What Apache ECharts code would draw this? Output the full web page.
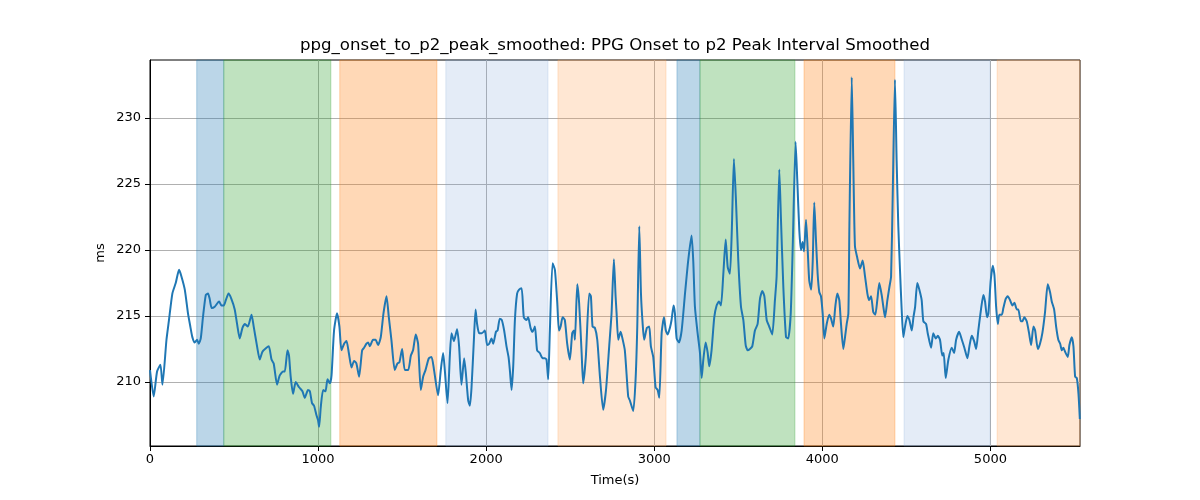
<!DOCTYPE html>
<html><head><meta charset="utf-8">
<script src="https://cdn.jsdelivr.net/npm/echarts@6/dist/echarts.min.js"></script>
<style>html,body{margin:0;padding:0;background:#fff}#c{width:1200px;height:500px}</style>
</head><body><div id="c"></div>
<script>
const times = [0,22,42,62,74,98,113,133,153,173,187,207,226,240,252,266,280,290,302,315,332,345,355,367,385,411,425,439,451,467,484,504,518,534,550,565,582,604,617,637,653,669,693,707,723,736,756,772,792,802,818,827,837,851,867,887,907,921,940,951,964,976,990,1000,1006,1016,1030,1044,1056,1070,1080,1095,1113,1127,1139,1155,1169,1183,1199,1214,1228,1244,1262,1274,1288,1298,1308,1327,1342,1357,1373,1389,1407,1421,1437,1456,1472,1484,1500,1516,1536,1552,1565,1581,1595,1611,1625,1639,1659,1675,1690,1714,1730,1744,1754,1770,1784,1794,1808,1827,1839,1853,1869,1879,1893,1903,1913,1927,1937,1946,1958,1974,1992,2006,2018,2032,2042,2058,2068,2081,2093,2107,2121,2133,2141,2151,2161,2171,2184,2196,2211,2224,2240,2250,2264,2276,2290,2303,2319,2336,2349,2359,2369,2379,2395,2409,2423,2433,2443,2455,2468,2482,2498,2512,2522,2528,2542,2553,2568,2577,2593,2613,2623,2633,2647,2661,2677,2696,2713,2732,2746,2760,2770,2776,2786,2800,2809,2825,2845,2855,2875,2889,2899,2911,2921,2931,2940,2956,2970,2980,2994,3008,3020,3030,3044,3058,3069,3080,3093,3103,3115,3123,3133,3147,3163,3183,3202,3222,3232,3242,3258,3272,3282,3292,3306,3318,3327,3341,3357,3371,3385,3397,3411,3425,3437,3450,3461,3474,3486,3500,3516,3530,3544,3556,3569,3583,3599,3615,3629,3643,3655,3669,3684,3702,3718,3728,3744,3754,3768,3784,3797,3812,3824,3841,3851,3863,3873,3883,3891,3903,3913,3922,3934,3943,3952,3962,3972,3982,3992,4002,4012,4026,4041,4052,4065,4077,4089,4101,4111,4125,4135,4145,4155,4161,4175,4184,4194,4208,4224,4240,4254,4268,4278,4290,4303,4315,4327,4339,4353,4363,4373,4387,4399,4409,4419,4432,4442,4452,4462,4472,4482,4492,4506,4518,4532,4542,4552,4565,4577,4591,4601,4617,4627,4647,4660,4675,4687,4700,4714,4722,4734,4750,4770,4784,4796,4814,4830,4845,4863,4875,4889,4903,4915,4928,4944,4958,4968,4980,4988,5002,5014,5024,5034,5044,5053,5068,5077,5091,5103,5117,5131,5143,5157,5166,5181,5190,5202,5216,5230,5242,5256,5266,5282,5295,5309,5325,5341,5355,5365,5379,5391,5404,5415,5425,5434,5444,5460,5470,5484,5494,5504,5514,5524,5532];
const values = [210.9,208.9,210.8,211.3,209.8,213.2,214.7,216.7,217.5,218.5,218.0,217.0,215.2,214.2,213.4,213.0,213.2,212.9,213.3,214.9,216.6,216.7,216.3,215.6,215.7,216.1,215.8,215.8,216.2,216.7,216.3,215.5,214.4,213.3,214.1,214.4,214.2,215.1,214.2,212.7,211.7,212.3,212.6,212.7,211.7,211.4,209.8,210.5,210.8,210.8,212.4,212.0,210.4,209.1,210.0,209.6,209.3,208.8,209.4,209.3,208.4,208.2,207.5,207.1,206.6,208.1,209.4,209.3,210.2,209.9,210.5,213.9,215.2,214.2,212.4,212.9,213.1,212.2,211.1,211.6,211.4,210.4,212.4,212.6,212.9,213.0,212.7,213.2,213.2,212.8,213.4,215.2,216.5,214.9,213.1,210.9,211.4,211.5,212.5,210.9,210.9,212.0,212.4,213.6,212.9,209.4,210.4,210.9,211.8,211.9,210.9,209.0,210.9,212.2,210.9,208.4,212.0,213.7,213.1,214.0,212.7,209.8,211.8,210.7,208.6,208.2,209.6,213.2,215.5,214.4,213.7,213.7,213.9,212.8,212.9,213.3,212.9,213.8,213.9,214.8,214.7,213.9,212.7,211.9,210.9,209.4,211.2,214.7,216.7,217.0,217.1,214.9,214.7,214.9,214.1,213.8,214.2,212.4,212.2,211.8,211.8,211.7,210.2,213.9,219.0,218.5,216.0,213.9,214.2,214.9,214.7,212.9,211.7,213.7,213.9,213.2,217.4,216.0,212.2,209.9,211.9,216.7,216.5,214.2,214.1,213.2,210.4,207.9,209.4,212.7,215.2,219.3,216.5,215.2,213.2,213.8,213.4,212.4,208.9,208.6,207.8,210.2,214.2,221.8,216.7,214.4,213.2,214.1,214.2,212.7,211.9,209.6,209.4,208.8,213.7,214.9,213.9,213.6,214.1,214.7,215.8,215.2,213.3,213.0,213.9,216.7,219.2,221.1,219.2,215.7,213.7,212.2,210.3,211.7,213.0,212.2,211.2,212.4,214.9,215.8,216.1,215.8,218.2,220.8,218.7,218.2,221.3,226.9,223.8,219.2,215.7,214.7,212.8,212.4,212.5,212.7,213.9,214.4,216.3,216.9,216.5,214.7,214.2,213.6,216.2,218.0,226.1,222.3,217.2,213.4,213.3,215.2,220.3,228.2,225.3,221.5,220.0,220.6,219.9,222.3,220.0,217.7,217.0,219.2,223.6,220.8,218.2,216.8,216.5,215.2,213.3,214.4,215.1,214.8,214.2,215.7,216.7,216.2,214.4,212.5,213.4,214.4,215.2,221.8,233.1,226.8,220.3,219.4,218.6,219.2,218.0,216.7,216.2,216.5,215.3,215.1,216.2,217.5,216.6,215.7,214.9,216.2,217.2,218.0,224.3,232.9,226.8,221.8,218.5,215.5,213.4,214.2,215.0,214.7,213.9,214.9,215.7,217.5,217.0,216.2,214.6,214.4,213.7,212.6,213.7,213.3,213.5,213.2,212.0,212.2,210.3,211.7,212.6,212.2,213.2,213.8,213.2,212.6,211.8,212.7,213.5,213.1,212.5,213.9,215.5,216.6,216.1,214.9,215.2,217.7,218.8,218.1,215.7,214.4,215.1,215.1,215.6,216.3,216.5,216.2,215.8,216.0,215.5,215.5,214.6,214.6,214.9,214.6,213.7,212.8,214.2,213.9,212.5,212.9,213.7,215.3,217.4,216.8,216.1,215.5,214.2,213.2,212.9,212.4,212.6,212.3,211.9,212.8,213.4,212.7,210.4,210.3,209.1,207.2];

const bandStarts = [278, 439, 1129, 1760, 2427, 3135, 3272, 3891, 4486, 5040];
const bandEnds   = [439, 1076, 1707, 2368, 3070, 3272, 3837, 4432, 4998, 5533];
const bandKinds  = ['blue','green','orange','lightblue','lightorange','blue','green','orange','lightblue','lightorange'];

const xTicks = [0, 1000, 2000, 3000, 4000, 5000];
const yTicks = [210, 215, 220, 225, 230];

const bandColors = {
  blue: 'rgba(31,119,180,0.3)',
  green: 'rgba(44,160,44,0.3)',
  orange: 'rgba(255,127,14,0.3)',
  lightblue: 'rgba(120,160,215,0.2)',
  lightorange: 'rgba(255,160,80,0.25)'
};

const lineData = times.map((t, i) => [t, values[i]]);
const areas = bandStarts.map((s, i) => [
  { xAxis: s, itemStyle: { color: bandColors[bandKinds[i]], borderColor: bandColors[bandKinds[i]], borderWidth: 1 } },
  { xAxis: bandEnds[i] }
]);

const chart = echarts.init(document.getElementById('c'), null, { renderer: 'canvas' });
const font = 'DejaVu Sans';
chart.setOption({
  animation: false,
  backgroundColor: '#fff',
  grid: { left: 150, right: 120, top: 60, bottom: 54, show: true, borderColor: '#000', borderWidth: 1, backgroundColor: 'transparent' },
  xAxis: {
    type: 'value', min: 0, max: 5533,
    axisLine: { show: true, lineStyle: { color: '#000', width: 1 } },
    axisTick: { show: true, length: 5, inside: false, customValues: xTicks, lineStyle: { color: '#000' } },
    axisLabel: { customValues: xTicks, color: '#000', fontFamily: font, fontSize: 13, margin: 7, formatter: v => String(v) },
    splitLine: { show: true, lineStyle: { color: '#b0b0b0', width: 1 } }
  },
  yAxis: {
    type: 'value', min: 205.15, max: 234.4,
    axisLine: { show: true, lineStyle: { color: '#000', width: 1 } },
    axisTick: { show: true, length: 5, customValues: yTicks, lineStyle: { color: '#000' } },
    axisLabel: { customValues: yTicks, color: '#000', fontFamily: font, fontSize: 13, margin: 9, formatter: v => String(v) },
    splitLine: { show: true, lineStyle: { color: '#b0b0b0', width: 1 } }
  },
  graphic: [
    { type: 'text', x: 615, y: 46, style: { text: 'ppg_onset_to_p2_peak_smoothed: PPG Onset to p2 Peak Interval Smoothed', font: '16.6px "DejaVu Sans"', fill: '#000', textAlign: 'center', textVerticalAlign: 'middle' } },
    { type: 'text', x: 615, y: 481, style: { text: 'Time(s)', font: '13px "DejaVu Sans"', fill: '#000', textAlign: 'center', textVerticalAlign: 'middle' } },
    { type: 'text', x: 101, y: 253, rotation: Math.PI / 2, style: { text: 'ms', font: '13px "DejaVu Sans"', fill: '#000', textAlign: 'center', textVerticalAlign: 'middle' } }
  ],
  series: [{
    type: 'line', data: lineData, showSymbol: false, smooth: 0.2,
    lineStyle: { color: '#1f77b4', width: 2 },
    markArea: { silent: true, data: areas }
  }]
});
</script></body></html>
